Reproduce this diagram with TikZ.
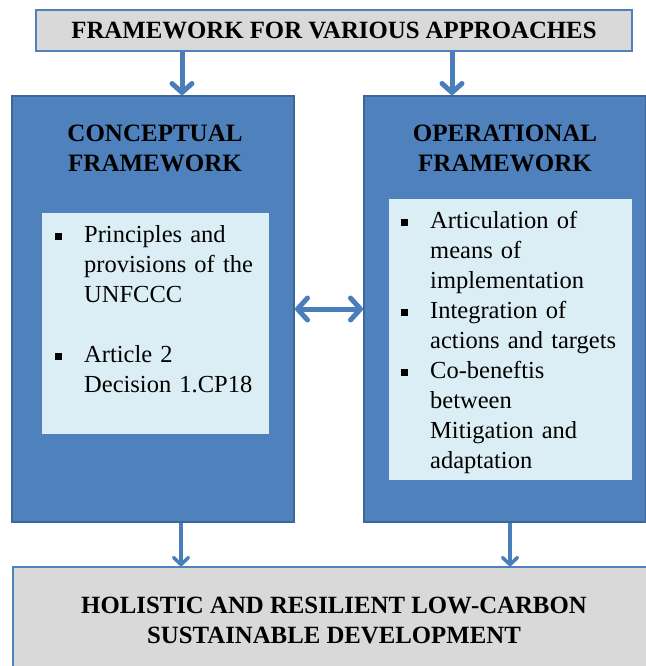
\documentclass[tikz,border=0pt]{standalone}
\usepackage{fontspec}
\setmainfont{Liberation Serif}
\usetikzlibrary{arrows.meta, positioning, calc}
\definecolor{cblue}{HTML}{4F81BD}
\definecolor{cblueline}{HTML}{3B679A}
\definecolor{clight}{HTML}{DCEEF5}
\definecolor{cgrey}{HTML}{D9D9D9}
\definecolor{carrow}{HTML}{4A7EBB}
\newcommand{\listfont}{\fontsize{24.5}{30}\selectfont}
\newcommand{\headfont}{\fontsize{24.8}{30}\selectfont\bfseries}
\newcommand{\sqitem}{\noindent\hangindent=29pt\hangafter=1\makebox[29pt][l]{\rule[2.5pt]{7pt}{7pt}}}
\tikzset{
  every picture/.style={x=1pt, y=-1pt},
  panel/.style={draw=cblueline, fill=cblue, line width=2pt, minimum width=282pt, minimum height=426pt},
  listbox/.style={fill=clight, draw=none},
  header/.style={draw=cblue, fill=cgrey, line width=1.5pt, font=\headfont, align=center},
  title/.style={font=\fontsize{25}{30}\selectfont\bfseries, text width=260pt, align=center, inner sep=0pt, anchor=base},
  items/.style={font=\listfont, inner sep=0pt, anchor=base west},
  bigarrow/.style={-{Straight Barb[length=9pt, width=20pt, round]}, draw=carrow, line width=5pt},
  smallarrow/.style={-{Straight Barb[length=7pt, width=15pt, round]}, draw=carrow, line width=3.5pt},
  twoway/.style={{Straight Barb[length=10pt, width=22pt, round]}-{Straight Barb[length=10pt, width=22pt, round]}, draw=carrow, line width=5pt},
}

\begin{document}
\begin{tikzpicture}
  \useasboundingbox (0,0) rectangle (645,666);
  % boxes
  \node[header, minimum width=596pt, minimum height=41pt] (top) at (334,30.5) {FRAMEWORK FOR VARIOUS APPROACHES};
  \node[panel] (concept) at (153,309) {};
  \node[panel] (oper) at (505,309) {};
  \node[listbox, minimum width=227pt, minimum height=221pt] (clist) at (155.5,323.5) {};
  \node[listbox, minimum width=243pt, minimum height=281pt] (olist) at (510.5,339.5) {};
  \node[header, minimum width=642pt, minimum height=106pt] (goal) at (334,620) {HOLISTIC AND RESILIENT LOW-CARBON\\SUSTAINABLE DEVELOPMENT};

  % texts
  \node[title] (ctitle) at (155,141.5) {CONCEPTUAL\\FRAMEWORK};
  \node[title] (otitle) at (505,141.5) {OPERATIONAL\\FRAMEWORK};
  \node[items, text width=212pt] (ctext) at (55,242) {%
    \sqitem Principles and\newline provisions of the\newline UNFCCC\par
    \vspace{30pt}
    \sqitem Article 2\newline Decision 1.CP18\par};
  \node[items, text width=231pt] (otext) at (401,228) {%
    \sqitem Articulation of\newline means of\newline implementation\par
    \sqitem Integration of\newline actions and targets\par
    \sqitem Co-beneftis\newline between\newline Mitigation and\newline adaptation\par};

  % arrows
  \coordinate (a1) at (182,0);
  \coordinate (a2) at (452,0);
  \coordinate (b1) at (181,0);
  \coordinate (b2) at (510,0);
  \draw[bigarrow] (top.south -| a1) -- (concept.north -| a1);
  \draw[bigarrow] (top.south -| a2) -- (oper.north -| a2);
  \draw[twoway] (concept.east) -- (oper.west);
  \draw[smallarrow] (concept.south -| b1) -- (goal.north -| b1);
  \draw[smallarrow] (oper.south -| b2) -- (goal.north -| b2);
\end{tikzpicture}
\end{document}
